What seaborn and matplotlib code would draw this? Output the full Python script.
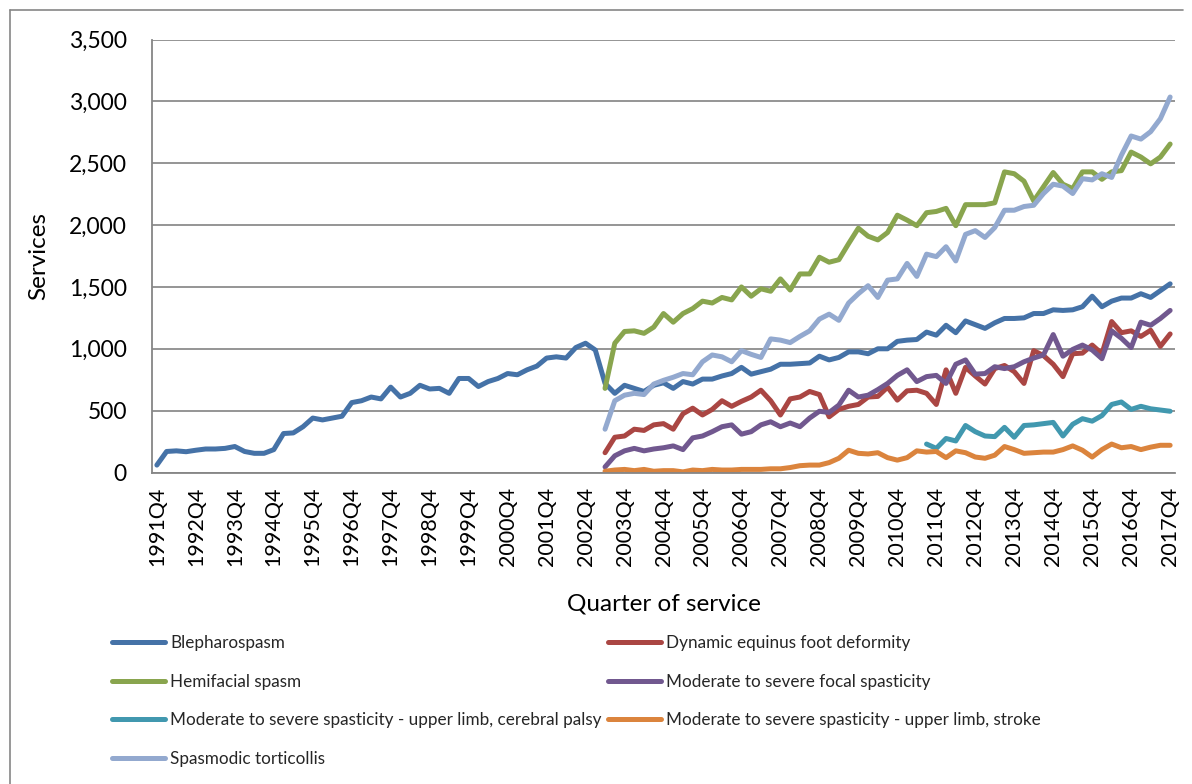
import numpy as np
import pandas as pd
import matplotlib
matplotlib.use("Agg")
import matplotlib.pyplot as plt
from matplotlib.lines import Line2D
from matplotlib.ticker import FuncFormatter
import seaborn as sns

# ---------------- data ----------------
quarters = [f"{y}Q{q}" for y in range(1991, 2018) for q in (1, 2, 3, 4)]
quarters = quarters[quarters.index("1991Q4"):]          # 1991Q4 .. 2017Q4

blepharospasm = [
    60, 170, 175, 168, 180, 190, 190, 195, 210, 170, 155, 155, 185, 315, 320, 370,
    440, 425, 440, 455, 565, 580, 610, 595, 690, 610, 640, 705, 675, 680, 640, 760,
    760, 695, 735, 760, 800, 790, 830, 860, 925, 935, 925, 1010, 1045, 990, 720, 640,
    705, 680, 655, 705, 725, 680, 735, 715, 755, 755, 780, 800, 850, 795, 815, 835,
    875, 875, 880, 885, 940, 910, 930, 975, 975, 960, 1000, 1000, 1060, 1070, 1075,
    1135, 1110, 1190, 1130, 1225, 1195, 1165, 1210, 1245, 1245, 1250, 1285, 1285,
    1315, 1310, 1315, 1340, 1425, 1340, 1385, 1410, 1410, 1445, 1415, 1470, 1525]

start_2003 = "2003Q2"
dynamic_equinus = [
    160, 285, 295, 350, 340, 385, 395, 350, 475, 520, 465, 510, 580, 535, 575, 610,
    665, 580, 465, 595, 610, 655, 630, 450, 510, 535, 550, 610, 615, 690, 585, 660,
    665, 640, 550, 830, 640, 850, 780, 715, 840, 865, 815, 720, 985, 945, 875, 775,
    960, 965, 1030, 960, 1220, 1130, 1145, 1100, 1150, 1020, 1120]
hemifacial = [
    680, 1045, 1140, 1145, 1125, 1175, 1285, 1215, 1285, 1325, 1385, 1370, 1415, 1395,
    1500, 1425, 1485, 1465, 1565, 1475, 1605, 1605, 1740, 1700, 1720, 1850, 1975, 1910,
    1880, 1940, 2080, 2040, 1995, 2100, 2110, 2135, 1995, 2165, 2165, 2165, 2180, 2430,
    2415, 2355, 2195, 2310, 2425, 2330, 2295, 2430, 2430, 2370, 2430, 2440, 2590, 2550,
    2495, 2550, 2655]
focal_spasticity = [
    45, 135, 175, 195, 175, 190, 200, 215, 185, 280, 295, 330, 370, 385, 310, 330,
    385, 410, 370, 400, 370, 440, 495, 485, 545, 665, 610, 625, 670, 720, 785, 830,
    735, 775, 785, 720, 875, 910, 795, 800, 855, 840, 855, 895, 925, 950, 1115, 940,
    995, 1030, 990, 920, 1145, 1085, 1010, 1215, 1190, 1245, 1310]
start_cp = "2011Q3"
upper_limb_cp = [
    230, 195, 275, 255, 380, 330, 295, 290, 365, 285, 380, 385, 395, 405, 295, 390,
    435, 415, 460, 550, 570, 510, 535, 515, 505, 495]
upper_limb_stroke = [
    10, 20, 25, 15, 25, 10, 15, 15, 5, 20, 15, 25, 20, 20, 25, 25, 25, 30, 30, 40,
    55, 60, 60, 80, 115, 180, 155, 150, 160, 120, 100, 120, 175, 165, 170, 120, 175,
    160, 125, 115, 140, 210, 185, 155, 160, 165, 165, 185, 215, 180, 125, 185, 230,
    200, 210, 185, 205, 220, 220]
torticollis = [
    350, 580, 625, 640, 630, 715, 745, 770, 800, 790, 895, 950, 935, 895, 985, 955,
    930, 1080, 1070, 1050, 1100, 1145, 1240, 1280, 1230, 1370, 1445, 1510, 1415, 1555,
    1565, 1690, 1585, 1765, 1745, 1825, 1710, 1925, 1955, 1900, 1980, 2120, 2120, 2150,
    2160, 2255, 2330, 2315, 2255, 2375, 2365, 2415, 2385, 2565, 2720, 2695, 2755, 2860,
    3035]

series = [
    ("Blepharospasm", "1991Q4", blepharospasm, "#4572A7"),
    ("Dynamic equinus foot deformity", start_2003, dynamic_equinus, "#AA4643"),
    ("Hemifacial spasm", start_2003, hemifacial, "#89A54E"),
    ("Moderate to severe focal spasticity", start_2003, focal_spasticity, "#71588F"),
    ("Moderate to severe spasticity - upper limb, cerebral palsy", start_cp, upper_limb_cp, "#4198AF"),
    ("Moderate to severe spasticity - upper limb, stroke", start_2003, upper_limb_stroke, "#DB843D"),
    ("Spasmodic torticollis", start_2003, torticollis, "#93A9CF"),
]

rows = []
for name, start, vals, _ in series:
    s = quarters.index(start)
    for k, v in enumerate(vals):
        rows.append({"pos": s + k, "quarter": quarters[s + k], "series": name, "Services": v})
df = pd.DataFrame(rows)
names = [s[0] for s in series]
palette = {s[0]: s[3] for s in series}

# ---------------- figure ----------------
sns.set_theme(style="white")
plt.rcParams["font.family"] = ["Lato", "DejaVu Sans"]

W, H = 1192, 784
fig = plt.figure(figsize=(W / 100, H / 100), dpi=100)
L, R, T, B = 152, 1175, 39.5, 472.5
ax = fig.add_axes([L / W, 1 - B / H, (R - L) / W, (B - T) / H])

sns.lineplot(data=df, x="pos", y="Services", hue="series", hue_order=names,
             palette=palette, linewidth=3.6, legend=False, ax=ax,
             solid_capstyle="round", solid_joinstyle="round")

ax.set_xlim(-0.5, len(quarters) - 0.5)
ax.set_ylim(0, 3500)
ax.set_yticks(np.arange(0, 3501, 500))
ax.yaxis.set_major_formatter(FuncFormatter(lambda v, p: f"{int(v):,}"))
tick_pos = [i for i, q in enumerate(quarters) if q.endswith("Q4")]
ax.set_xticks(tick_pos)
ax.set_xticklabels([quarters[i] for i in tick_pos], rotation=90)
ax.tick_params(axis="y", length=0, pad=18, labelsize=16.5, labelcolor="black")
ax.tick_params(axis="x", length=0, pad=10, labelsize=15.5, labelcolor="black")

ax.yaxis.grid(True, color="#8c8c8c", linewidth=1.3)
ax.xaxis.grid(False)
ax.set_axisbelow(True)
for sp in ("top", "right"):
    ax.spines[sp].set_visible(False)
for sp in ("left", "bottom"):
    ax.spines[sp].set_color("#868686")
    ax.spines[sp].set_linewidth(1.3)

ax.set_xlabel("Quarter of service", fontsize=17.5, color="black")
ax.set_ylabel("Services", fontsize=17.5, color="black")
ax.xaxis.set_label_coords(0.5, (B - 593) / (B - T))
ax.yaxis.set_label_coords((49 - L) / (R - L), 0.5)

# chart border
fig.add_artist(Line2D([10 / W, 10 / W], [0, 1 - 10 / H], transform=fig.transFigure,
                      color="#868686", lw=1.2))
fig.add_artist(Line2D([10 / W, 1183 / W], [1 - 10 / H, 1 - 10 / H], transform=fig.transFigure,
                      color="#868686", lw=1.2))

# legend (two columns, filled row-wise as in the original)
handles = {n: Line2D([], [], color=palette[n], lw=3.6, solid_capstyle="round") for n in names}
col1 = [names[0], names[2], names[4], names[6]]
col2 = [names[1], names[3], names[5]]
leg_kw = dict(frameon=False, fontsize=12.3, handlelength=3.1, handletextpad=0.3,
              labelspacing=1.32, borderpad=0, borderaxespad=0, loc="upper left")
leg1 = fig.legend([handles[n] for n in col1], col1,
                  bbox_to_anchor=(112 / W, 1 - 635 / H), **leg_kw)
leg2 = fig.legend([handles[n] for n in col2], col2,
                  bbox_to_anchor=(608 / W, 1 - 635 / H), **leg_kw)

fig.savefig("out.png", dpi=100)
